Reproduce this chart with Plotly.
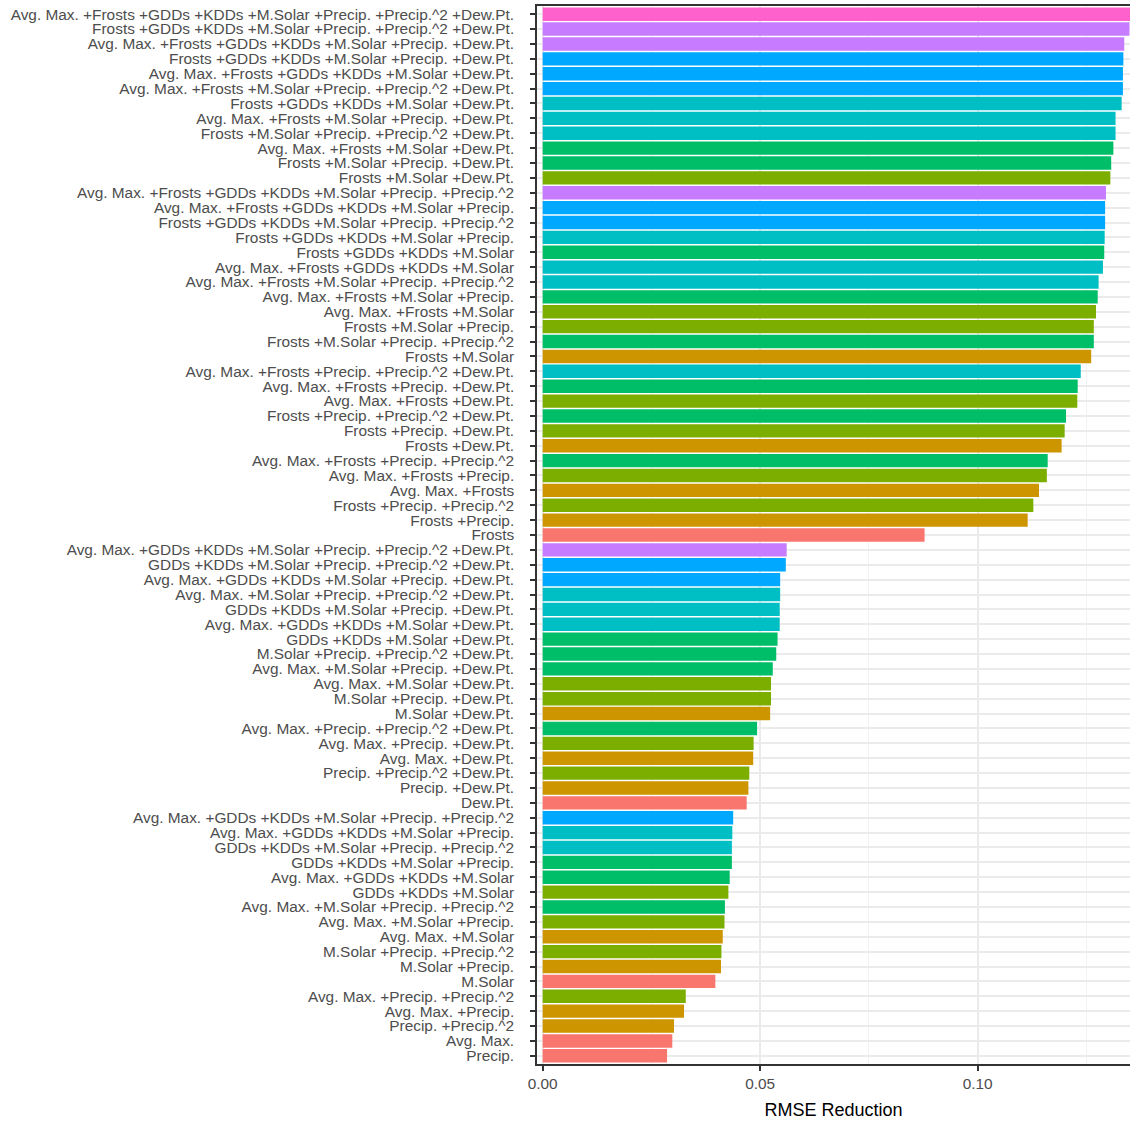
import plotly.graph_objects as go

# Model specifications (top to bottom as displayed)
models = [
    "Avg. Max. +Frosts +GDDs +KDDs +M.Solar +Precip. +Precip.^2 +Dew.Pt.",
    "Frosts +GDDs +KDDs +M.Solar +Precip. +Precip.^2 +Dew.Pt.",
    "Avg. Max. +Frosts +GDDs +KDDs +M.Solar +Precip. +Dew.Pt.",
    "Frosts +GDDs +KDDs +M.Solar +Precip. +Dew.Pt.",
    "Avg. Max. +Frosts +GDDs +KDDs +M.Solar +Dew.Pt.",
    "Avg. Max. +Frosts +M.Solar +Precip. +Precip.^2 +Dew.Pt.",
    "Frosts +GDDs +KDDs +M.Solar +Dew.Pt.",
    "Avg. Max. +Frosts +M.Solar +Precip. +Dew.Pt.",
    "Frosts +M.Solar +Precip. +Precip.^2 +Dew.Pt.",
    "Avg. Max. +Frosts +M.Solar +Dew.Pt.",
    "Frosts +M.Solar +Precip. +Dew.Pt.",
    "Frosts +M.Solar +Dew.Pt.",
    "Avg. Max. +Frosts +GDDs +KDDs +M.Solar +Precip. +Precip.^2",
    "Avg. Max. +Frosts +GDDs +KDDs +M.Solar +Precip.",
    "Frosts +GDDs +KDDs +M.Solar +Precip. +Precip.^2",
    "Frosts +GDDs +KDDs +M.Solar +Precip.",
    "Frosts +GDDs +KDDs +M.Solar",
    "Avg. Max. +Frosts +GDDs +KDDs +M.Solar",
    "Avg. Max. +Frosts +M.Solar +Precip. +Precip.^2",
    "Avg. Max. +Frosts +M.Solar +Precip.",
    "Avg. Max. +Frosts +M.Solar",
    "Frosts +M.Solar +Precip.",
    "Frosts +M.Solar +Precip. +Precip.^2",
    "Frosts +M.Solar",
    "Avg. Max. +Frosts +Precip. +Precip.^2 +Dew.Pt.",
    "Avg. Max. +Frosts +Precip. +Dew.Pt.",
    "Avg. Max. +Frosts +Dew.Pt.",
    "Frosts +Precip. +Precip.^2 +Dew.Pt.",
    "Frosts +Precip. +Dew.Pt.",
    "Frosts +Dew.Pt.",
    "Avg. Max. +Frosts +Precip. +Precip.^2",
    "Avg. Max. +Frosts +Precip.",
    "Avg. Max. +Frosts",
    "Frosts +Precip. +Precip.^2",
    "Frosts +Precip.",
    "Frosts",
    "Avg. Max. +GDDs +KDDs +M.Solar +Precip. +Precip.^2 +Dew.Pt.",
    "GDDs +KDDs +M.Solar +Precip. +Precip.^2 +Dew.Pt.",
    "Avg. Max. +GDDs +KDDs +M.Solar +Precip. +Dew.Pt.",
    "Avg. Max. +M.Solar +Precip. +Precip.^2 +Dew.Pt.",
    "GDDs +KDDs +M.Solar +Precip. +Dew.Pt.",
    "Avg. Max. +GDDs +KDDs +M.Solar +Dew.Pt.",
    "GDDs +KDDs +M.Solar +Dew.Pt.",
    "M.Solar +Precip. +Precip.^2 +Dew.Pt.",
    "Avg. Max. +M.Solar +Precip. +Dew.Pt.",
    "Avg. Max. +M.Solar +Dew.Pt.",
    "M.Solar +Precip. +Dew.Pt.",
    "M.Solar +Dew.Pt.",
    "Avg. Max. +Precip. +Precip.^2 +Dew.Pt.",
    "Avg. Max. +Precip. +Dew.Pt.",
    "Avg. Max. +Dew.Pt.",
    "Precip. +Precip.^2 +Dew.Pt.",
    "Precip. +Dew.Pt.",
    "Dew.Pt.",
    "Avg. Max. +GDDs +KDDs +M.Solar +Precip. +Precip.^2",
    "Avg. Max. +GDDs +KDDs +M.Solar +Precip.",
    "GDDs +KDDs +M.Solar +Precip. +Precip.^2",
    "GDDs +KDDs +M.Solar +Precip.",
    "Avg. Max. +GDDs +KDDs +M.Solar",
    "GDDs +KDDs +M.Solar",
    "Avg. Max. +M.Solar +Precip. +Precip.^2",
    "Avg. Max. +M.Solar +Precip.",
    "Avg. Max. +M.Solar",
    "M.Solar +Precip. +Precip.^2",
    "M.Solar +Precip.",
    "M.Solar",
    "Avg. Max. +Precip. +Precip.^2",
    "Avg. Max. +Precip.",
    "Precip. +Precip.^2",
    "Avg. Max.",
    "Precip.",
]

rmse_reduction = [
    0.1352, 0.1349, 0.1337, 0.1335, 0.1334, 0.1334, 0.1331, 0.1317, 0.1317, 0.1312,
    0.1307, 0.1305, 0.1295, 0.1293, 0.1293, 0.1292, 0.1291, 0.1288, 0.1278, 0.1276,
    0.1272, 0.1267, 0.1267, 0.1261, 0.1237, 0.1230, 0.1229, 0.1203, 0.1200, 0.1193,
    0.1161, 0.1159, 0.1141, 0.1128, 0.1115, 0.0878, 0.0561, 0.0559, 0.0546, 0.0546,
    0.0545, 0.0545, 0.0540, 0.0537, 0.0529, 0.0525, 0.0525, 0.0523, 0.0493, 0.0485,
    0.0484, 0.0475, 0.0473, 0.0469, 0.0438, 0.0436, 0.0435, 0.0435, 0.0430, 0.0427,
    0.0419, 0.0418, 0.0414, 0.0411, 0.0410, 0.0397, 0.0329, 0.0325, 0.0302, 0.0298,
    0.0286,
]

x_tick_vals = [0.0, 0.05, 0.10]
x_tick_text = ["0.00", "0.05", "0.10"]

# ggplot default hue palette for 1..8 terms
palette = ["#F8766D", "#CD9600", "#7CAE00", "#00BE67",
           "#00BFC4", "#00A9FF", "#C77CFF", "#FF61CC"]
bar_colors = [palette[m.count("+")] for m in models]

FONT = "Liberation Sans, Arial, Helvetica, sans-serif"
TICK_SIZE = 15.4

fig = go.Figure(go.Bar(
    x=rmse_reduction,
    y=models,
    orientation="h",
    marker=dict(color=bar_colors, line=dict(width=0)),
    width=0.9,
    showlegend=False,
))

fig.update_layout(
    width=1130, height=1122,
    margin=dict(l=537, r=0, t=6, b=58),
    plot_bgcolor="white", paper_bgcolor="white",
    font=dict(family=FONT, size=TICK_SIZE, color="#4D4D4D"),
    bargap=0.1,
)

fig.update_xaxes(
    range=[-0.0013, 0.13502],
    tickvals=x_tick_vals, ticktext=x_tick_text,
    ticks="outside", ticklen=5, tickwidth=1.5, tickcolor="#333333",
    showgrid=True, gridcolor="#EBEBEB", gridwidth=1.5,
    minor=dict(dtick=0.025, tick0=0, showgrid=True, gridcolor="#F2F2F2", gridwidth=1),
    showline=True, linecolor="#333333", linewidth=1.5, mirror=True,
    zeroline=False,
    tickfont=dict(size=TICK_SIZE, color="#4D4D4D"),
    title=dict(text="RMSE Reduction", font=dict(size=18, color="#000000"), standoff=12),
)

fig.update_yaxes(
    categoryorder="array", categoryarray=models,
    tickmode="array", tickvals=models, ticktext=models,
    range=[70.55, -0.55],
    ticks="outside", ticklen=5, tickwidth=1.5, tickcolor="#333333",
    showgrid=True, gridcolor="#EBEBEB", gridwidth=1.5,
    showline=True, linecolor="#333333", linewidth=1.5, mirror=False,
    tickfont=dict(size=TICK_SIZE, color="#4D4D4D"),
    ticklabelstandoff=13,
)

fig.write_html(
    "out.html",
    config={"displayModeBar": False},
    post_script="document.body.style.margin='0';document.body.style.overflow='hidden';",
)
